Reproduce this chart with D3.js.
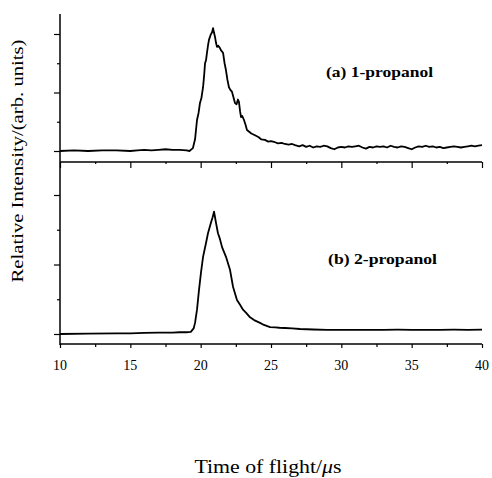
<!DOCTYPE html>
<html>
<head>
<script src="https://d3js.org/d3.v7.min.js"></script>
<style>
  body { margin: 0; background: #fff; }
  text { font-family: 'Liberation Serif', 'Times New Roman', serif; fill: #000; }
</style>
</head>
<body>
<div id="chart"></div>
<script>
// time of flight (us), relative intensity (arb. units)
const propanol1 = [
  [10,0.0],[11,0.01],[12,0.0],[13,0.01],[14,0.01],[15,0.0],[15.5,0.01],[16,0.02],[16.5,0.01],
  [17,0.02],[17.5,0.03],[18,0.02],[18.5,0.02],[19,0.01],[19.2,0.0],[19.45,0.05],[19.6,0.2],
  [19.74,0.53],[19.85,0.65],[19.95,0.82],[20.05,0.9],[20.17,1.09],[20.25,1.3],[20.31,1.5],
  [20.38,1.55],[20.45,1.68],[20.52,1.8],[20.59,1.9],[20.7,1.98],[20.81,2.03],[20.88,2.1],
  [20.95,2.02],[21.02,1.95],[21.09,1.85],[21.16,1.78],[21.25,1.8],[21.37,1.76],[21.45,1.72],
  [21.59,1.68],[21.7,1.5],[21.8,1.38],[21.9,1.22],[22.01,1.09],[22.1,1.05],[22.23,1.01],
  [22.35,0.9],[22.44,0.82],[22.55,0.8],[22.65,0.88],[22.72,0.84],[22.8,0.68],[22.87,0.58],
  [22.95,0.6],[23.08,0.53],[23.2,0.44],[23.29,0.36],[23.45,0.33],[23.6,0.3],[23.86,0.27],
  [24.1,0.24],[24.3,0.2],[24.57,0.19],[24.8,0.16],[25.0,0.17],[25.28,0.15],[25.5,0.13],
  [25.75,0.14],[25.99,0.12],[26.25,0.11],[26.5,0.12],[26.71,0.1],
  [27,0.08],[27.25,0.1],[27.5,0.07],[27.75,0.09],[28,0.06],[28.25,0.08],[28.5,0.07],[28.75,0.09],
  [29,0.08],[29.25,0.05],[29.5,0.03],[29.75,0.06],[30,0.07],[30.25,0.06],[30.5,0.08],[30.75,0.07],
  [31,0.08],[31.25,0.09],[31.5,0.06],[31.75,0.04],[32,0.07],[32.25,0.06],[32.5,0.08],[32.75,0.07],
  [33,0.08],[33.25,0.06],[33.5,0.09],[33.75,0.07],[34,0.06],[34.25,0.08],[34.5,0.07],[34.75,0.05],
  [35,0.03],[35.25,0.06],[35.5,0.08],[35.75,0.07],[36,0.09],[36.25,0.07],[36.5,0.08],[36.75,0.06],
  [37,0.07],[37.25,0.05],[37.5,0.06],[37.75,0.07],[38,0.08],[38.25,0.07],[38.5,0.06],[38.75,0.07],
  [39,0.08],[39.25,0.09],[39.5,0.08],[39.75,0.09],[40,0.1]
];
const propanol2 = [
  [10,0.0],[12,0.005],[14,0.01],[15,0.01],[16,0.015],[17,0.02],[18,0.02],[18.5,0.025],[19,0.025],
  [19.3,0.03],[19.5,0.08],[19.6,0.16],[19.74,0.35],[19.88,0.63],[20.02,0.88],[20.17,1.11],
  [20.38,1.31],[20.52,1.45],[20.73,1.6],[20.85,1.68],[20.95,1.76],[21.02,1.68],[21.09,1.6],
  [21.23,1.45],[21.35,1.38],[21.52,1.25],[21.8,1.11],[22.09,0.92],[22.3,0.68],[22.58,0.49],
  [22.8,0.42],[23.01,0.35],[23.25,0.3],[23.51,0.24],[23.8,0.2],[24.22,0.16],[24.5,0.13],
  [24.93,0.1],[25.3,0.095],[25.6,0.09],[25.99,0.086],[26.5,0.08],[27.06,0.072],[28,0.065],
  [29,0.06],[30,0.058],[31,0.06],[32,0.058],[33,0.06],[34,0.062],[35,0.06],[36,0.058],
  [37,0.06],[38,0.062],[39,0.06],[40,0.062]
];
const xTicks = [10, 15, 20, 25, 30, 35, 40];
const xMinorTicks = [12.5, 17.5, 22.5, 27.5, 32.5, 37.5];
const yTicks = [0, 0.5, 1, 1.5, 2];
const panelLabels = ["(a) 1-propanol", "(b) 2-propanol"];

const width = 492, height = 478;
const plotLeft = 60, plotRight = 482;
const plotTop = 14, plotMid = 162, plotBottom = 344;

const svg = d3.select("#chart").append("svg")
  .attr("width", width).attr("height", height);

const x = d3.scaleLinear().domain([10, 40]).range([plotLeft, plotRight]);
const yA = d3.scaleLinear().domain([0, 2]).range([151, 34]);
const yB = d3.scaleLinear().domain([0, 2]).range([334, 195]);

// frame lines
const frame = svg.append("g").attr("stroke", "#000").attr("stroke-width", 1.5);
frame.append("line").attr("x1", plotLeft).attr("x2", plotLeft).attr("y1", plotTop).attr("y2", plotBottom + 1);
frame.append("line").attr("x1", plotLeft).attr("x2", plotRight).attr("y1", plotMid).attr("y2", plotMid);
frame.append("line").attr("x1", plotLeft).attr("x2", plotRight).attr("y1", plotBottom).attr("y2", plotBottom);

// y ticks (long on whole units, short on halves)
[yA, yB].forEach(y => {
  const g = svg.append("g")
    .attr("transform", `translate(${plotLeft},0)`)
    .call(d3.axisLeft(y).tickValues(yTicks).tickFormat("").tickSizeOuter(0));
  g.select(".domain").remove();
  g.selectAll(".tick line")
    .attr("x2", d => d % 1 === 0 ? -6 : -3)
    .attr("stroke-width", 1.2);
});

// x ticks on separator and bottom axis
function xTickAxis(yPos, major, minor) {
  const g = svg.append("g").attr("transform", `translate(0,${yPos})`);
  g.append("g").call(d3.axisBottom(x).tickValues(xTicks).tickFormat("").tickSize(major));
  g.append("g").call(d3.axisBottom(x).tickValues(xMinorTicks).tickFormat("").tickSize(minor));
  g.selectAll(".domain").remove();
  g.selectAll(".tick line").attr("stroke-width", 1.2);
}
xTickAxis(plotMid, 6, 2);
xTickAxis(plotBottom, 4, 3);

// x tick labels
svg.append("g").selectAll("text")
  .data(xTicks).join("text")
  .attr("x", d => x(d))
  .attr("y", 370)
  .attr("text-anchor", "middle")
  .attr("font-size", 14)
  .attr("textLength", 14).attr("lengthAdjust", "spacingAndGlyphs")
  .text(d => d);

// signal traces
const lineA = d3.line().x(d => x(d[0])).y(d => yA(d[1]));
const lineB = d3.line().x(d => x(d[0])).y(d => yB(d[1]));
svg.append("path").datum(propanol1)
  .attr("d", lineA).attr("fill", "none").attr("stroke", "#000").attr("stroke-width", 1.8)
  .attr("stroke-linejoin", "round");
svg.append("path").datum(propanol2)
  .attr("d", lineB).attr("fill", "none").attr("stroke", "#000").attr("stroke-width", 1.8)
  .attr("stroke-linejoin", "round");

// panel labels
svg.append("text").attr("x", 326).attr("y", 77)
  .attr("font-size", 14).attr("font-weight", "bold")
  .attr("textLength", 107).attr("lengthAdjust", "spacingAndGlyphs")
  .text(panelLabels[0]);
svg.append("text").attr("x", 328).attr("y", 264)
  .attr("font-size", 14).attr("font-weight", "bold")
  .attr("textLength", 109).attr("lengthAdjust", "spacingAndGlyphs")
  .text(panelLabels[1]);

// axis titles
svg.append("text")
  .attr("transform", "translate(23,161) rotate(-90)")
  .attr("text-anchor", "middle")
  .attr("font-size", 17)
  .attr("textLength", 243).attr("lengthAdjust", "spacingAndGlyphs")
  .text("Relative Intensity/(arb. units)");

const xt = svg.append("text")
  .attr("x", 268).attr("y", 473)
  .attr("text-anchor", "middle")
  .attr("font-size", 18)
  .attr("textLength", 147).attr("lengthAdjust", "spacingAndGlyphs");
xt.append("tspan").text("Time of flight/");
xt.append("tspan").attr("font-style", "italic").text("μ");
xt.append("tspan").text("s");
</script>
</body>
</html>
